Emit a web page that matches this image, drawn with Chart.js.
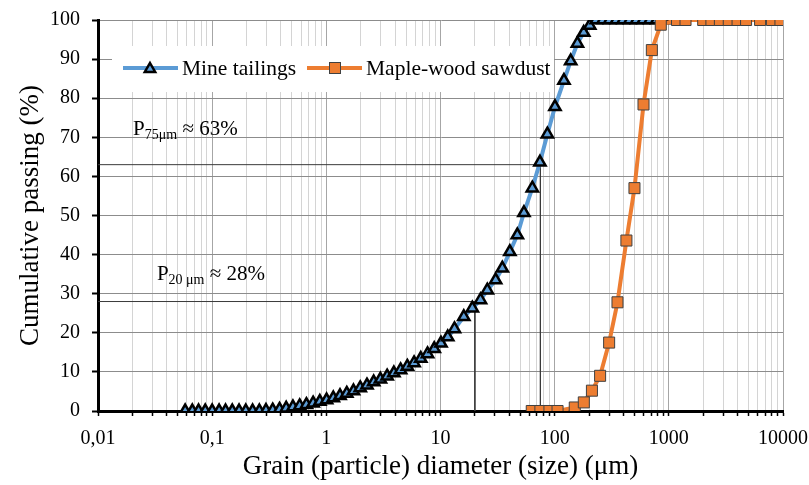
<!DOCTYPE html>
<html>
<head>
<meta charset="utf-8">
<script src="https://cdn.jsdelivr.net/npm/chart.js@4.4.0/dist/chart.umd.min.js"></script>
<style>
  html, body { margin: 0; padding: 0; background: #fff; }
  #wrap { width: 809px; height: 485px; }
</style>
</head>
<body>
<div id="wrap"><canvas id="psd" width="809" height="485"></canvas></div>
<script>
// grain size distributions
const tailingsSize = [0.058, 0.067, 0.076, 0.087, 0.1, 0.115, 0.131, 0.15, 0.172, 0.197,
    0.226, 0.259, 0.296, 0.339, 0.389, 0.445, 0.51, 0.584, 0.669, 0.766,
    0.877, 1.005, 1.151, 1.318, 1.51, 1.729, 1.981, 2.269, 2.599, 2.976,
    3.409, 3.905, 4.472, 5.122, 5.867, 6.72, 7.697, 8.816, 10.1, 11.57,
    13.25, 16.0, 19.0, 22.4, 25.7, 30.4, 34.8, 40.5, 47.1, 53.8,
    63.7, 74.3, 86.3, 100.6, 120.6, 138.2, 158.2, 179.6, 202.8, 231,
    265, 303, 347, 397, 455, 521, 596, 683, 782, 895];
const tailingsPassing = [0, 0, 0, 0, 0, 0, 0, 0, 0, 0,
    0, 0, 0.1, 0.2, 0.4, 0.7, 1.0, 1.3, 1.6, 2.0,
    2.4, 2.8, 3.3, 3.9, 4.5, 5.1, 5.9, 6.6, 7.4, 8.1,
    8.9, 9.7, 10.5, 11.4, 12.3, 13.4, 14.6, 15.9, 17.3, 18.9,
    21.0, 24.1, 26.3, 28.4, 30.9, 33.5, 36.5, 40.7, 45.0, 50.7,
    57.0, 63.6, 70.8, 77.8, 84.5, 89.5, 94.0, 96.8, 98.6, 100,
    100, 100, 100, 100, 100, 100, 100, 100, 100, 100];

const sawdustSize = [63, 75, 90, 106, 150, 180, 212, 250, 300, 355, 425, 500, 600, 710, 850,
    1180, 1400, 2000, 2360, 2800, 3350, 4000, 4750, 6300, 8000, 9500];
const sawdustPassing = [0, 0, 0, 0, 0.9, 2.2, 5.2, 9.0, 17.5, 27.8, 43.6, 57.0, 78.4, 92.3, 98.8,
    100, 100, 100, 100, 100, 100, 100, 100, 100, 100, 100];

// reference lines: P75um ~ 63 %, P20um ~ 28 %
const refSize = [75, 20];
const refPassing = [63, 28];
const refSub = ['75μm', '20 μm'];

const xTickValues = [0.01, 0.1, 1, 10, 100, 1000, 10000];
const xTickLabels = ['0,01', '0,1', '1', '10', '100', '1000', '10000'];
const seriesNames = ['Mine tailings', 'Maple-wood sawdust'];

const SERIF = "'Liberation Serif', 'Times New Roman', serif";
const BLUE = '#5B9BD5';
const ORANGE = '#ED7D31';

// log grid: 1..9 per decade
const xGrid = [];
for (let e = -2; e <= 3; e++) {
    for (let m = 1; m <= 9; m++) xGrid.push(Number((m * Math.pow(10, e)).toPrecision(6)));
}
xGrid.push(10000);

const isDecade = v => Math.abs(Math.log10(v) - Math.round(Math.log10(v))) < 1e-9;

const pairs = (xs, ys) => xs.map((x, i) => ({ x, y: ys[i] }));

const refSets = refSize.map((s, i) => ({
    label: 'ref' + i,
    data: [{ x: 0.01, y: refPassing[i] }, { x: s, y: refPassing[i] }, { x: s, y: 0 }],
    showLine: true,
    borderColor: '#3a3a3a',
    borderWidth: 1,
    pointRadius: 0,
    order: 3
}));

function drawTri(ctx, x, y, r) {
    ctx.beginPath();
    ctx.moveTo(x, y - r);
    ctx.lineTo(x + r * 0.866, y + r * 0.5);
    ctx.lineTo(x - r * 0.866, y + r * 0.5);
    ctx.closePath();
}

// legend sits inside the plot, on a white box
const innerLegend = {
    id: 'innerLegend',
    beforeDatasetsDraw(chart) {
        const { ctx, chartArea } = chart;
        const L = chartArea.left;
        const y = 68;
        ctx.save();
        ctx.fillStyle = '#fff';
        ctx.fillRect(L + 14, 46, 442, 46);

        ctx.lineWidth = 4;
        ctx.strokeStyle = BLUE;
        ctx.beginPath(); ctx.moveTo(L + 25, y); ctx.lineTo(L + 80, y); ctx.stroke();
        drawTri(ctx, L + 52, y + 1, 6);
        ctx.fillStyle = BLUE; ctx.fill();
        ctx.lineWidth = 2.5; ctx.strokeStyle = '#000'; ctx.stroke();

        ctx.lineWidth = 4;
        ctx.strokeStyle = ORANGE;
        ctx.beginPath(); ctx.moveTo(L + 209, y); ctx.lineTo(L + 264, y); ctx.stroke();
        ctx.fillStyle = ORANGE;
        ctx.fillRect(L + 231.5, y - 5.5, 11, 11);
        ctx.lineWidth = 1; ctx.strokeStyle = '#404040';
        ctx.strokeRect(L + 231.5, y - 5.5, 11, 11);

        ctx.fillStyle = '#000';
        ctx.font = '21.5px ' + SERIF;
        ctx.textBaseline = 'middle';
        ctx.fillText(seriesNames[0], L + 84, y + 1);
        ctx.fillText(seriesNames[1], L + 268, y + 1);
        ctx.restore();
    }
};

// "P_xx ≈ yy%" labels
const refLabels = {
    id: 'refLabels',
    afterDatasetsDraw(chart) {
        const { ctx } = chart;
        const xs = chart.scales.x, ys = chart.scales.y;
        const anchors = [[0.0203, 70.5], [0.0328, 33.6]];
        ctx.save();
        ctx.fillStyle = '#000';
        ctx.textBaseline = 'alphabetic';
        anchors.forEach((a, i) => {
            let x = xs.getPixelForValue(a[0]);
            const y = ys.getPixelForValue(a[1]);
            ctx.font = '21px ' + SERIF;
            ctx.fillText('P', x, y);
            x += ctx.measureText('P').width;
            ctx.font = '14px ' + SERIF;
            ctx.fillText(refSub[i], x, y + 4);
            x += ctx.measureText(refSub[i]).width;
            ctx.font = '21px ' + SERIF;
            ctx.fillText(' ≈ ' + refPassing[i] + '%', x, y);
        });
        ctx.restore();
    }
};

new Chart(document.getElementById('psd'), {
    type: 'scatter',
    data: {
        datasets: [
            {
                label: seriesNames[0],
                data: pairs(tailingsSize, tailingsPassing),
                showLine: true,
                borderColor: BLUE,
                borderWidth: 4,
                pointStyle: 'triangle',
                pointRadius: 6.5,
                pointBackgroundColor: BLUE,
                pointBorderColor: '#000',
                pointBorderWidth: 2.5,
                order: 1
            },
            {
                label: seriesNames[1],
                data: pairs(sawdustSize, sawdustPassing),
                showLine: true,
                borderColor: ORANGE,
                borderWidth: 4,
                pointStyle: 'rect',
                pointRadius: 7.8,
                pointBackgroundColor: ORANGE,
                pointBorderColor: '#404040',
                pointBorderWidth: 1,
                order: 0
            },
            ...refSets
        ]
    },
    options: {
        responsive: false,
        animation: false,
        layout: { padding: { top: 20, right: 26, left: 0, bottom: 0 } },
        plugins: {
            legend: { display: false },
            tooltip: { enabled: false }
        },
        scales: {
            x: {
                type: 'logarithmic',
                min: 0.01,
                max: 10000,
                afterBuildTicks: axis => { axis.ticks = xGrid.map(v => ({ value: v })); },
                afterFit: s => { s.height = 74; s.paddingLeft = 0; s.paddingRight = 0; },
                ticks: {
                    autoSkip: false,
                    maxRotation: 0,
                    color: '#000',
                    padding: 11,
                    font: { family: SERIF, size: 20 },
                    callback: v => isDecade(v) ? xTickLabels[Math.round(Math.log10(v)) + 2] : ''
                },
                grid: {
                    color: c => (c.tick && isDecade(c.tick.value)) ? '#a6a6a6' : '#d4d4d4',
                    lineWidth: 1,
                    tickColor: '#000',
                    tickLength: 5,
                    tickWidth: 1.5
                },
                border: { color: '#000', width: 3 },
                title: {
                    display: true,
                    text: 'Grain (particle) diameter (size) (μm)',
                    color: '#000',
                    font: { family: SERIF, size: 27 },
                    padding: { top: 0, bottom: 2 }
                }
            },
            y: {
                min: 0,
                max: 100,
                afterFit: s => { s.width = 98; s.paddingTop = 0; s.paddingBottom = 0; },
                ticks: {
                    stepSize: 10,
                    color: '#000',
                    padding: 12,
                    font: { family: SERIF, size: 20 }
                },
                grid: {
                    color: '#8c8c8c',
                    lineWidth: 1,
                    tickColor: '#000',
                    tickLength: 6,
                    tickWidth: 2
                },
                border: { color: '#000', width: 3 },
                title: {
                    display: true,
                    text: 'Cumulative passing (%)',
                    color: '#000',
                    font: { family: SERIF, size: 27 },
                    padding: { top: 15, bottom: 0 }
                }
            }
        }
    },
    plugins: [innerLegend, refLabels]
});
</script>
</body>
</html>
